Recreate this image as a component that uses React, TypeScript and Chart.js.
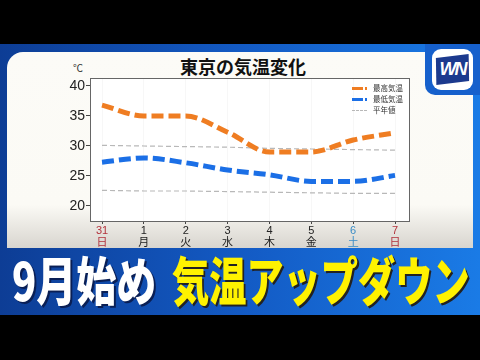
import React, { useEffect, useRef } from "react";
import { Chart, registerables } from "chart.js";
Chart.register(...registerables);

const days = ["31", "1", "2", "3", "4", "5", "6", "7"];
const weekdays = ["日", "月", "火", "水", "木", "金", "土", "日"];
const dayColors = ["#b2323c", "#222", "#222", "#222", "#222", "#222", "#3a8cc6", "#b2323c"];
const highTemps = [36.8, 35.0, 35.0, 32.3, 29.0, 29.0, 31.0, 32.2];
const lowTemps = [27.3, 28.0, 27.2, 26.0, 25.2, 24.1, 24.1, 25.1];
const normalHigh = [30.1, 30.0, 29.9, 29.8, 29.6, 29.5, 29.4, 29.3];
const normalLow = [22.6, 22.5, 22.5, 22.4, 22.3, 22.2, 22.1, 22.1];
const yTicks = [20, 25, 30, 35, 40];
const seriesNames = ["最高気温", "最低気温", "平年値"];

const pts = (arr: number[]) => arr.map((v, i) => ({ x: i, y: v }));

const plotFrame = {
  id: "plotFrame",
  beforeDraw(chart: any) {
    const { ctx, chartArea: a } = chart;
    ctx.save();
    ctx.fillStyle = "#ffffff";
    ctx.fillRect(a.left, a.top, a.right - a.left, a.bottom - a.top);
    ctx.restore();
  },
  afterDraw(chart: any) {
    const { ctx, chartArea: a } = chart;
    ctx.save();
    ctx.strokeStyle = "#666";
    ctx.lineWidth = 1;
    ctx.strokeRect(a.left + 0.5, a.top + 0.5, a.right - a.left - 1, a.bottom - a.top);
    ctx.restore();
  },
};

export default function App() {
  const ref = useRef<HTMLCanvasElement>(null);
  useEffect(() => {
    document.body.style.margin = "0";
    const chart = new Chart(ref.current!, {
      type: "line",
      data: {
        datasets: [
          {
            label: seriesNames[0],
            data: pts(highTemps),
            borderColor: "#ef7d22",
            borderWidth: 5,
            borderDash: [12, 5],
            pointRadius: 0,
            cubicInterpolationMode: "monotone",
          },
          {
            label: seriesNames[1],
            data: pts(lowTemps),
            borderColor: "#1b6fe6",
            borderWidth: 5,
            borderDash: [12, 5],
            pointRadius: 0,
            cubicInterpolationMode: "monotone",
          },
          {
            label: seriesNames[2],
            data: pts(normalHigh),
            borderColor: "#b8b8b8",
            borderWidth: 1.2,
            borderDash: [5, 3],
            pointRadius: 0,
          },
          {
            label: seriesNames[2],
            data: pts(normalLow),
            borderColor: "#b8b8b8",
            borderWidth: 1.2,
            borderDash: [5, 3],
            pointRadius: 0,
          },
        ],
      },
      options: {
        responsive: false,
        animation: false,
        events: [],
        layout: { padding: { left: 50, top: 78, right: 70, bottom: 105 } },
        plugins: { legend: { display: false }, tooltip: { enabled: false } },
        scales: {
          x: {
            type: "linear",
            min: -0.287,
            max: 7.358,
            afterBuildTicks: (s: any) => {
              s.ticks = days.map((_, i) => ({ value: i }));
            },
            afterFit: (s: any) => {
              s.height = 34;
            },
            border: { display: false },
            grid: { color: "#f7f7f7", tickColor: "#444", tickLength: 3 },
            ticks: {
              autoSkip: false,
              maxRotation: 0,
              padding: 1,
              callback: (v: any) => [days[v], weekdays[v]],
              color: (c: any) => dayColors[c.index],
              font: { family: "'Liberation Sans', 'Noto Sans CJK JP', sans-serif", size: 11, lineHeight: 1.1 },
            },
          },
          y: {
            min: 17.5,
            max: 41.33,
            afterBuildTicks: (s: any) => {
              s.ticks = yTicks.map((v) => ({ value: v }));
            },
            afterFit: (s: any) => {
              s.width = 40;
            },
            border: { display: false },
            grid: { drawOnChartArea: false, tickColor: "#444", tickLength: 4 },
            ticks: {
              padding: 1,
              color: "#222",
              font: { family: "'Liberation Sans', sans-serif", size: 14 },
            },
          },
        },
      },
      plugins: [plotFrame],
    } as any);
    return () => chart.destroy();
  }, []);

  const legendRow = (top: number, marker: React.ReactNode, text: string) => (
    <div style={{ position: "absolute", left: 0, top, height: 10, display: "flex", alignItems: "center" }}>
      <div style={{ width: 16, display: "flex", alignItems: "center" }}>{marker}</div>
      <span style={{ marginLeft: 5, fontSize: 7.5, color: "#333", lineHeight: "10px" }}>{text}</span>
    </div>
  );
  const solidMarker = (c: string) => (
    <>
      <div style={{ width: 11, height: 3, background: c }} />
      <div style={{ width: 2, height: 3, background: c, marginLeft: 2 }} />
    </>
  );

  return (
    <div
      style={{
        position: "fixed",
        left: 0,
        top: 0,
        width: 480,
        height: 360,
        background: "#000",
        overflow: "hidden",
        fontFamily: "'Noto Sans CJK JP', sans-serif",
      }}
    >
      <div
        style={{
          position: "absolute",
          left: 0,
          top: 44,
          width: 480,
          height: 271,
          background: "linear-gradient(90deg, #0d3d95 0%, #135ac4 50%, #1a7be6 100%)",
        }}
      />
      <div
        style={{
          position: "absolute",
          left: 7,
          top: 52,
          width: 466,
          height: 196,
          borderTopLeftRadius: 16,
          background: "linear-gradient(180deg, #fcfbf7 0%, #fbfaf5 78%, #d8d5cf 100%)",
        }}
      />
      <div
        style={{
          position: "absolute",
          left: 425,
          top: 44,
          width: 55,
          height: 51,
          borderBottomLeftRadius: 10,
          background: "#1660cc",
        }}
      />
      <div
        style={{
          position: "absolute",
          left: 432,
          top: 49,
          width: 41,
          height: 41,
          borderRadius: 9,
          background: "#ffffff",
          overflow: "hidden",
        }}
      >
        <div
          style={{
            position: "absolute",
            left: 4,
            top: 7,
            width: 33,
            height: 27,
            background: "#1c3a8e",
            transform: "rotate(-7deg) skewX(-6deg)",
          }}
        />
        <div
          style={{
            position: "absolute",
            left: 0,
            top: 10,
            width: 41,
            textAlign: "center",
            color: "#fff",
            fontFamily: "'Liberation Sans', sans-serif",
            fontWeight: 700,
            fontStyle: "italic",
            fontSize: 18,
            lineHeight: "20px",
            letterSpacing: -2,
          }}
        >
          WN
        </div>
      </div>
      <div
        style={{
          position: "absolute",
          left: 180,
          top: 56,
          fontSize: 18,
          fontWeight: 700,
          lineHeight: "20px",
          color: "#111",
          whiteSpace: "nowrap",
        }}
      >
        東京の気温変化
      </div>
      <div style={{ position: "absolute", left: 73, top: 62, fontSize: 10, lineHeight: "12px", color: "#333" }}>℃</div>
      <canvas ref={ref} width={480} height={360} style={{ position: "absolute", left: 0, top: 0, width: 480, height: 360 }} />
      <div style={{ position: "absolute", left: 352, top: 83, width: 56, height: 33 }}>
        {legendRow(0, solidMarker("#ef7d22"), seriesNames[0])}
        {legendRow(11, solidMarker("#1b6fe6"), seriesNames[1])}
        {legendRow(
          22,
          <div style={{ width: 15, height: 0, borderTop: "1px dashed #b8b8b8" }} />,
          seriesNames[2]
        )}
      </div>
      <div
        style={{
          position: "absolute",
          left: 12,
          top: 252,
          fontSize: 40,
          lineHeight: "40px",
          fontWeight: 900,
          color: "#ffffff",
          whiteSpace: "nowrap",
          transform: "scale(1, 1.32)",
          transformOrigin: "0 0",
          textShadow: "2px 2px 0 #0a1f55",
        }}
      >
        9月始め
      </div>
      <div
        style={{
          position: "absolute",
          left: 172,
          top: 252,
          fontSize: 40,
          lineHeight: "40px",
          fontWeight: 900,
          color: "#fff200",
          whiteSpace: "nowrap",
          transform: "scale(0.93, 1.32)",
          transformOrigin: "0 0",
          textShadow: "2px 2px 0 #222",
        }}
      >
        気温アップダウン
      </div>
    </div>
  );
}
